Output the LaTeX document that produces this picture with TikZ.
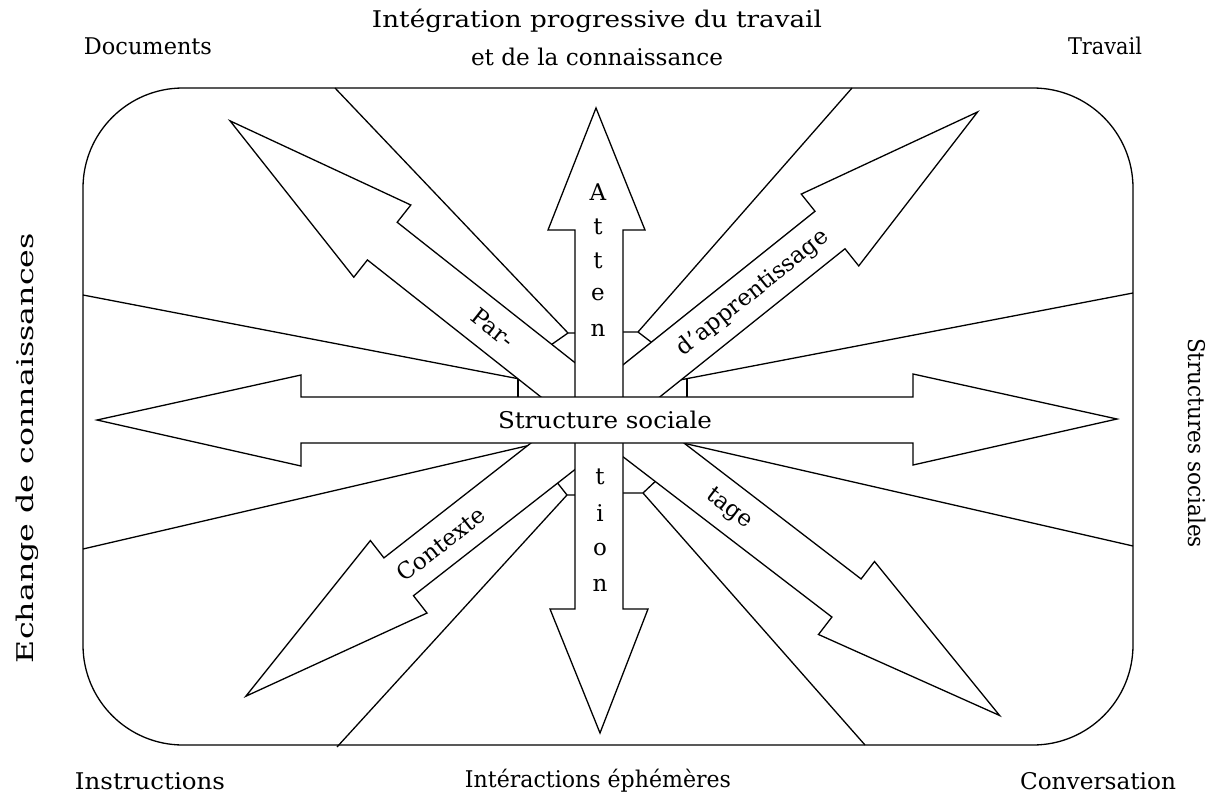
\documentclass[tikz,border=0pt]{standalone}
\usepackage{fontspec}
\setmainfont{DejaVu Serif}
\usetikzlibrary{calc}
\newcommand\fitw[2]{\resizebox{#1pt}{\height}{#2}}
\newcommand\diagarw[5]{%
  \begin{scope}[shift={(#1,#2)}, rotate=#3]
    \draw[arw] (#4,0) -- (0,-46) -- (0,-24) -- (-#5,-24) -- (-#5,24) -- (0,24) -- (0,46) -- cycle;
  \end{scope}}
\begin{document}
\begin{tikzpicture}[x=1pt,y=-1pt,line width=1.3pt,
  arw/.style={draw=black,fill=white,line width=1.3pt,line join=miter},
  divline/.style={draw=black,line width=1.3pt},
  lbl/.style={font=\fontsize{23}{26}\selectfont,inner sep=0pt,anchor=center},
  letter/.style={font=\fontsize{23}{26}\selectfont,inner sep=0pt}]
\fill[white] (0,0) rectangle (1224,800);
\useasboundingbox (0,0) rectangle (1224,800);

% frame
\draw[rounded corners=100pt] (83,88) rectangle (1133,745);

% beam dividers (top-left)
\draw[divline] (335,88) -- (568,333) -- (580,333);
\draw[divline] (568,333) -- (548,347);
\draw[divline] (83,295) -- (530,381);
\draw[divline] (518,378.7) -- (518,402);
% top-right
\draw[divline] (852,88) -- (638,332) -- (618,332);
\draw[divline] (638,332) -- (655,345);
\draw[divline] (1133,293) -- (672,381.5);
\draw[divline] (687,378.6) -- (687,402);
% bottom-right
\draw[divline] (1133,546) -- (675,441.2);
\draw[divline] (865,745) -- (643,493) -- (618,493);
\draw[divline] (643,493) -- (660,477);
% bottom-left
\draw[divline] (83,549) -- (535,444);
\draw[divline] (337,747) -- (567,495) -- (580,495);
\draw[divline] (567,495) -- (552,476);

% diagonal arrows
\diagarw{382.3}{241.1}{141.7}{194}{276}
\diagarw{830}{230}{38.66}{189}{290}
\diagarw{846.5}{598}{-37.5}{193}{290}
\diagarw{398.7}{576.8}{-142}{194}{255}

% vertical double arrow
\draw[arw] (596,108) -- (645,230) -- (623,230) -- (623,609) -- (648,609) -- (600,733)
  -- (550,609) -- (575,609) -- (575,230) -- (548,230) -- cycle;
% horizontal double arrow
\draw[arw] (97,420) -- (301,375) -- (301,397) -- (913,397) -- (913,374) -- (1117,419)
  -- (913,465) -- (913,443) -- (301,443) -- (301,466) -- cycle;

% texts inside arrows
\node[lbl] (struct) at (605,420) {\fitw{214}{Structure sociale}};
\node[letter] (a1) at (598,192) {A};
\node[letter] (a2) at (598,227) {t};
\node[letter] (a3) at (598,261) {t};
\node[letter] (a4) at (598,295) {e};
\node[letter] (a5) at (598,330) {n};
\node[letter] (b1) at (600,477) {t};
\node[letter] (b2) at (600,513) {i};
\node[letter] (b3) at (600,550) {o};
\node[letter] (b4) at (600,585) {n};
\node[lbl,rotate=-38.3] (par) at (493,328) {Par-};
\node[lbl,rotate=38.7] (dapp) at (753,293) {d’apprentissage};
\node[lbl,rotate=38] (ctx) at (441,544) {Contexte};
\node[lbl,rotate=-37.5] (tage) at (729,509) {tage};

% outer labels
\node[lbl] (doc) at (148,46) {\fitw{128}{Documents}};
\node[lbl] (int1) at (597,21) {\fitw{450}{Intégration progressive du travail}};
\node[lbl] (int2) at (597,57) {\fitw{252}{et de la connaissance}};
\node[lbl] (trav) at (1105,46) {\fitw{74}{Travail}};
\node[lbl,rotate=90] (ech) at (27,448) {\fitw{430}{Echange de connaissances}};
\node[lbl,rotate=-90] (ss) at (1197,443) {\fitw{210}{Structures sociales}};
\node[lbl] (instr) at (150,781) {\fitw{150}{Instructions}};
\node[lbl] (inter) at (598,781) {\fitw{266}{Intéractions éphémères}};
\node[lbl] (conv) at (1098,781) {\fitw{156}{Conversation}};
\end{tikzpicture}
\end{document}
